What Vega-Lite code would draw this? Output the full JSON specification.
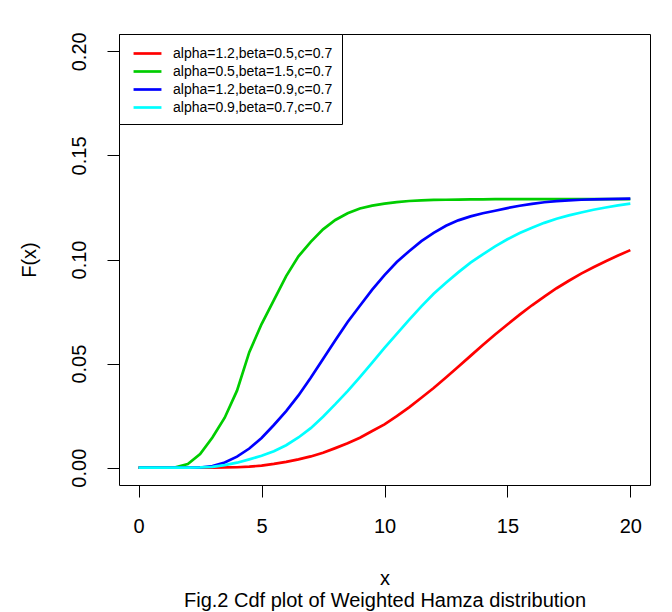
{
  "$schema": "https://vega.github.io/schema/vega-lite/v6.json",
  "width": 531,
  "height": 451,
  "autosize": {"type": "none"},
  "padding": {"left": 119, "top": 34, "right": 22, "bottom": 127},
  "background": "white",
  "data": {
    "values": [
      {"x": 0, "r": 0, "g": 0, "b": 0, "c": 0},
      {"x": 0.5, "r": 0, "g": 0, "b": 0, "c": 0},
      {"x": 1, "r": 0, "g": 0, "b": 0, "c": 0},
      {"x": 1.5, "r": 0, "g": 0.0002, "b": 0, "c": 0},
      {"x": 2, "r": 0, "g": 0.0018, "b": 0, "c": 0},
      {"x": 2.5, "r": 0, "g": 0.0065, "b": 0.0001, "c": 0.0001},
      {"x": 3, "r": 0, "g": 0.0145, "b": 0.0008, "c": 0.0004},
      {"x": 3.5, "r": 0.0001, "g": 0.024, "b": 0.0025, "c": 0.0012},
      {"x": 4, "r": 0.0002, "g": 0.037, "b": 0.0053, "c": 0.0024},
      {"x": 4.5, "r": 0.0005, "g": 0.0555, "b": 0.0092, "c": 0.004},
      {"x": 5, "r": 0.001, "g": 0.069, "b": 0.0143, "c": 0.0057},
      {"x": 5.5, "r": 0.0018, "g": 0.0805, "b": 0.0205, "c": 0.0079},
      {"x": 6, "r": 0.0028, "g": 0.092, "b": 0.0272, "c": 0.0108},
      {"x": 6.5, "r": 0.004, "g": 0.1015, "b": 0.0347, "c": 0.0145},
      {"x": 7, "r": 0.0054, "g": 0.1085, "b": 0.0432, "c": 0.019},
      {"x": 7.5, "r": 0.0072, "g": 0.1145, "b": 0.0522, "c": 0.0245},
      {"x": 8, "r": 0.0094, "g": 0.119, "b": 0.0612, "c": 0.0305},
      {"x": 8.5, "r": 0.0117, "g": 0.1222, "b": 0.07, "c": 0.0368},
      {"x": 9, "r": 0.0144, "g": 0.1245, "b": 0.0778, "c": 0.0435},
      {"x": 9.5, "r": 0.0176, "g": 0.1259, "b": 0.0855, "c": 0.0505},
      {"x": 10, "r": 0.0208, "g": 0.1268, "b": 0.0925, "c": 0.0575},
      {"x": 10.5, "r": 0.0248, "g": 0.1276, "b": 0.0988, "c": 0.0643},
      {"x": 11, "r": 0.029, "g": 0.1281, "b": 0.104, "c": 0.071},
      {"x": 11.5, "r": 0.0336, "g": 0.1284, "b": 0.1088, "c": 0.0775},
      {"x": 12, "r": 0.0383, "g": 0.1286, "b": 0.1128, "c": 0.0835},
      {"x": 12.5, "r": 0.0433, "g": 0.1287, "b": 0.1162, "c": 0.0888},
      {"x": 13, "r": 0.0485, "g": 0.1288, "b": 0.1188, "c": 0.0938},
      {"x": 13.5, "r": 0.0537, "g": 0.1289, "b": 0.1207, "c": 0.0985},
      {"x": 14, "r": 0.0589, "g": 0.1289, "b": 0.1222, "c": 0.1025},
      {"x": 14.5, "r": 0.064, "g": 0.129, "b": 0.1234, "c": 0.1063},
      {"x": 15, "r": 0.0688, "g": 0.129, "b": 0.1247, "c": 0.1097},
      {"x": 15.5, "r": 0.0735, "g": 0.129, "b": 0.1258, "c": 0.1127},
      {"x": 16, "r": 0.078, "g": 0.129, "b": 0.1267, "c": 0.1153},
      {"x": 16.5, "r": 0.0822, "g": 0.129, "b": 0.1275, "c": 0.1176},
      {"x": 17, "r": 0.0862, "g": 0.129, "b": 0.128, "c": 0.1196},
      {"x": 17.5, "r": 0.0898, "g": 0.129, "b": 0.1284, "c": 0.1212},
      {"x": 18, "r": 0.0932, "g": 0.129, "b": 0.1287, "c": 0.1226},
      {"x": 18.5, "r": 0.0963, "g": 0.129, "b": 0.1289, "c": 0.1239},
      {"x": 19, "r": 0.0992, "g": 0.129, "b": 0.129, "c": 0.125},
      {"x": 19.5, "r": 0.1019, "g": 0.129, "b": 0.1291, "c": 0.126},
      {"x": 20, "r": 0.1045, "g": 0.129, "b": 0.1292, "c": 0.1268}
    ]
  },
  "transform": [
    {"fold": ["r", "g", "b", "c"], "as": ["series", "F"]}
  ],
  "mark": {"type": "line", "strokeWidth": 2.7, "interpolate": "linear"},
  "encoding": {
    "x": {
      "field": "x",
      "type": "quantitative",
      "scale": {"domain": [-0.8, 20.8], "nice": false, "zero": false},
      "axis": {
        "values": [0, 5, 10, 15, 20],
        "labelPadding": 19,
        "title": ["x", "Fig.2 Cdf plot of Weighted Hamza distribution"],
        "titleLineHeight": 22,
        "titlePadding": 32
      }
    },
    "y": {
      "field": "F",
      "type": "quantitative",
      "scale": {"domain": [-0.00832, 0.20832], "nice": false, "zero": false},
      "axis": {
        "values": [0, 0.05, 0.1, 0.15, 0.2],
        "format": ".2f",
        "labelAngle": -90,
        "labelAlign": "center",
        "labelBaseline": "bottom",
        "labelPadding": 18,
        "title": "F(x)",
        "titlePadding": 30
      }
    },
    "color": {
      "field": "series",
      "type": "nominal",
      "scale": {
        "domain": ["r", "g", "b", "c"],
        "range": ["#FF0000", "#00CD00", "#0000FF", "#00FFFF"]
      },
      "legend": {
        "orient": "top-left",
        "offset": 0,
        "title": null,
        "labelExpr": "datum.value == 'r' ? 'alpha=1.2,beta=0.5,c=0.7' : datum.value == 'g' ? 'alpha=0.5,beta=1.5,c=0.7' : datum.value == 'b' ? 'alpha=1.2,beta=0.9,c=0.7' : 'alpha=0.9,beta=0.7,c=0.7'",
        "strokeColor": "black",
        "fillColor": "white",
        "padding": 9,
        "symbolType": "M-1.55,0L1.55,0",
        "symbolSize": 324,
        "symbolStrokeWidth": 2.7,
        "symbolOffset": 9,
        "labelOffset": 15,
        "rowPadding": 0,
        "labelFont": "Liberation Sans",
        "labelFontSize": 14,
        "labelColor": "black",
        "cornerRadius": 0
      }
    }
  },
  "config": {
    "view": {"stroke": "black", "strokeWidth": 1},
    "axis": {
      "grid": false,
      "domain": false,
      "ticks": true,
      "tickColor": "black",
      "tickSize": 12,
      "tickWidth": 1,
      "labelFont": "Liberation Sans",
      "labelFontSize": 20,
      "labelColor": "black",
      "labelFlush": false,
      "labelOverlap": false,
      "titleFont": "Liberation Sans",
      "titleFontSize": 20,
      "titleFontWeight": "normal",
      "titleColor": "black"
    }
  }
}
